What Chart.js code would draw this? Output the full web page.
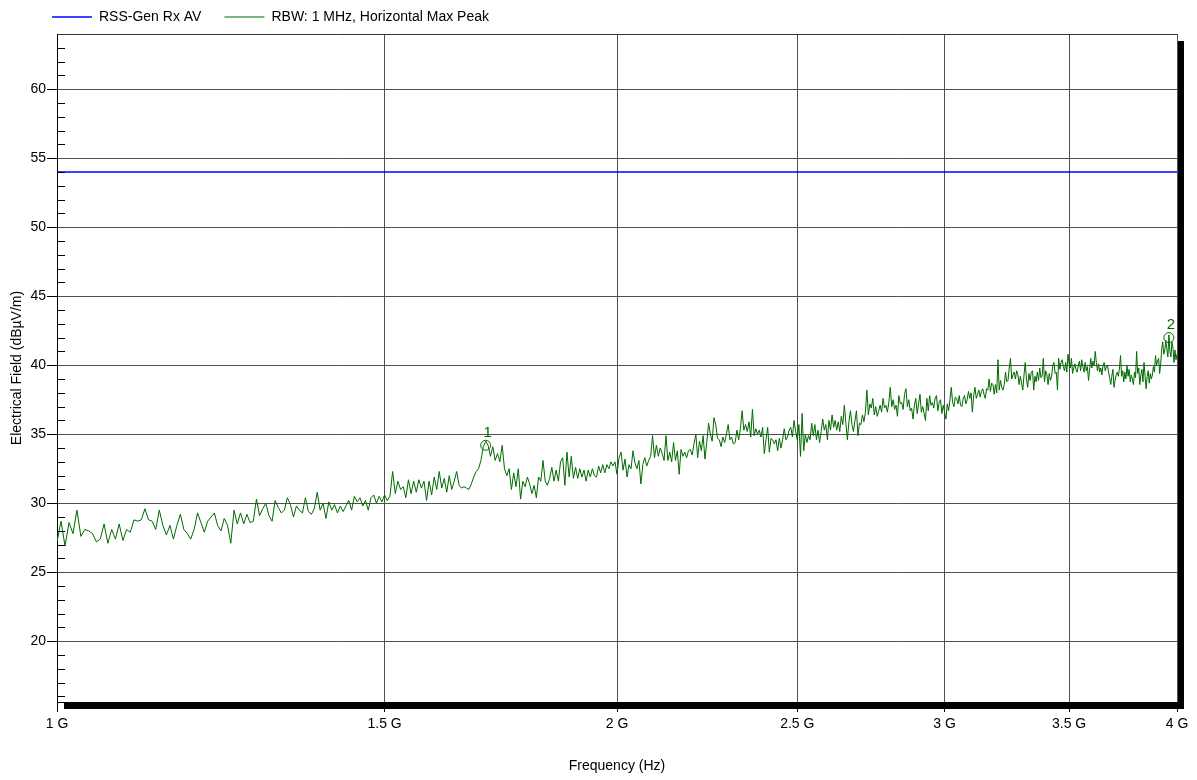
<!DOCTYPE html>
<html>
<head>
<meta charset="utf-8">
<title>Radiated emissions 1 - 4 GHz</title>
<script src="https://cdn.jsdelivr.net/npm/chart.js"></script>
<style>
  html, body { margin: 0; padding: 0; background: #fff; }
</style>
</head>
<body>
<canvas id="emissions" width="1197" height="780"></canvas>
<script>
// sweep settings of the analyser trace (MHz)
const sweepStartMHz = 1000;
const sweepStepMHz = 5;

// max peak trace, dBuV/m, one value per 5 MHz from 1000 to 4000 MHz
const peakLevels = [
	// 1000 - 1315
	27.2, 28.7, 26.9, 28.6, 27.8, 29.5, 27.6, 28.1, 28.0, 27.8,
	27.2, 27.4, 28.5, 27.1, 28.1, 27.4, 28.5, 27.3, 28.1, 27.9,
	28.8, 28.7, 28.8, 29.6, 28.8, 28.7, 28.1, 29.5, 28.4, 27.7,
	28.4, 27.4, 28.4, 29.2, 28.1, 27.8, 27.4, 28.1, 29.3, 28.6,
	27.9, 28.7, 29.0, 29.3, 28.4, 28.0, 28.9, 28.4, 27.1, 29.5,
	28.5, 29.3, 28.5, 29.2, 28.6, 28.7, 30.3, 29.1, 29.6, 30.0,
	29.1, 28.7, 30.2, 29.7,
	// 1320 - 1510
	29.3, 29.5, 30.4, 29.9, 29.0, 29.8, 29.5, 29.3, 30.4, 29.4,
	29.2, 29.6, 30.8, 29.5, 30.0, 28.9, 30.1, 29.5, 29.9, 29.3,
	29.8, 29.4, 29.8, 30.2, 29.5, 30.5, 30.1, 30.4, 29.8, 30.2,
	29.5, 30.4, 30.6, 30.0, 30.5, 30.1, 30.6, 30.2, 30.5,
	// 1515 - 1725
	32.3, 30.7, 31.6, 31.0, 31.2, 30.4, 31.7, 30.7, 31.6, 30.8,
	31.7, 31.1, 31.6, 30.2, 31.6, 30.6, 31.9, 31.0, 32.3, 31.1,
	31.8, 30.8, 32.0, 31.0, 31.6, 32.3, 31.3, 31.1, 31.2, 31.1,
	31.0, 31.4, 31.9, 32.3, 32.5, 33.1, 34.1, 34.5, 34.2, 33.4,
	34.1, 33.1, 33.6,
	// 1730 - 2000
	33.0, 34.2, 32.5, 32.0, 32.5, 31.0, 32.2, 31.2, 32.5, 30.3,
	31.6, 31.2, 31.9, 31.4, 30.7, 31.3, 30.4, 31.9, 31.6, 33.1,
	31.6, 31.3, 31.8, 32.6, 31.6, 32.4, 31.6, 33.0, 33.3, 31.3,
	33.7, 31.9, 33.4, 31.8, 32.6, 31.8, 32.5, 31.9, 32.4, 31.6,
	32.4, 31.9, 32.5, 32.0, 31.9, 32.7, 32.2, 32.8, 32.2, 32.8,
	32.5, 33.0, 32.7, 33.0, 32.1,
	// 2005 - 2255
	33.3, 33.7, 32.4, 33.2, 31.9, 32.8, 32.5, 33.8, 32.9, 32.5,
	33.1, 31.4, 32.8, 33.3, 32.7, 33.1, 33.4, 34.9, 33.3, 34.2,
	33.4, 34.0, 33.6, 33.1, 34.9, 33.1, 33.7, 33.0, 34.4, 33.1,
	33.8, 32.1, 33.9, 33.4, 33.7, 33.3, 33.8, 33.9, 33.5, 34.3,
	35.0, 33.3, 34.5, 33.8, 34.9, 33.2, 34.4, 35.8, 35.0, 34.5,
	36.2,
	// 2260 - 2500
	35.7, 34.7, 34.6, 34.1, 34.8, 34.4, 35.0, 35.7, 34.6, 34.8,
	34.3, 34.4, 35.3, 34.6, 35.4, 36.7, 35.3, 35.7, 35.2, 35.9,
	34.8, 36.8, 34.9, 35.4, 35.0, 35.3, 34.8, 35.5, 33.6, 34.6,
	35.5, 33.7, 34.7, 34.6, 34.3, 34.6, 33.8, 34.7, 34.0, 34.6,
	35.4, 34.6, 34.8, 35.3, 35.5, 34.8, 36.0, 35.2, 34.6,
	// 2505 - 2960
	35.7, 33.4, 36.5, 33.8, 35.0, 34.4, 34.9, 34.6, 35.8, 34.9,
	35.7, 34.6, 35.3, 34.4, 35.2, 36.1, 35.3, 35.7, 34.6, 36.0,
	35.3, 36.4, 35.5, 36.0, 35.3, 35.9, 35.2, 36.3, 35.7, 37.1,
	35.8, 34.6, 35.9, 36.7, 35.7, 35.2, 36.0, 36.7, 34.9, 35.8,
	35.7, 36.4, 35.9, 36.6, 38.2, 36.4, 37.2, 36.9, 37.6, 36.4,
	37.0, 36.3, 36.7, 37.1, 36.6, 37.6, 36.9, 37.1, 36.6, 37.3,
	38.4, 37.0, 37.5, 36.8, 37.1, 36.3, 37.8, 37.2, 37.3, 36.8,
	37.9, 38.3, 37.0, 37.5, 36.7, 36.9, 36.1, 37.1, 37.6, 36.5,
	37.2, 37.9, 36.6, 37.0, 36.5, 36.0, 37.6, 36.7, 37.8, 37.1,
	37.3, 36.9,
	// 2965 - 3500
	37.6, 37.8, 36.7, 37.3, 37.5, 36.5, 37.1, 36.6, 36.1, 37.2,
	36.7, 37.5, 38.4, 37.3, 37.0, 37.7, 37.6, 37.2, 37.8, 37.1,
	37.0, 37.6, 37.8, 37.2, 37.5, 38.1, 37.6, 38.0, 36.6, 37.8,
	38.4, 37.6, 37.9, 38.2, 37.7, 38.1, 38.3, 37.9, 37.6, 38.3,
	38.2, 39.0, 38.1, 38.7, 38.6, 37.9, 38.6, 38.0, 40.4, 38.2,
	38.9, 38.4, 38.2, 38.6, 39.5, 38.8, 38.9, 39.8, 40.5, 39.0,
	39.3, 39.5, 39.0, 39.6, 39.3, 38.6, 39.2, 38.7, 38.2, 39.3,
	40.2, 39.0, 38.4, 39.4, 38.9, 39.5, 39.6, 38.2, 39.2, 38.8,
	39.5, 38.9, 39.8, 39.1, 39.2, 40.5, 38.8, 39.6, 39.3, 38.6,
	39.4, 38.9, 39.2, 40.0, 40.2, 39.4, 39.5, 38.2, 40.5, 39.7,
	40.2, 40.4, 39.9, 39.6, 40.2, 39.5, 40.8, 40.1,
	// 3505 - 4000
	39.8, 40.5, 39.4, 39.8, 40.1, 39.7, 39.5, 40.0, 40.3, 39.6,
	40.4, 39.9, 39.5, 40.2, 39.6, 39.9, 38.9, 39.7, 40.5, 39.8,
	40.3, 40.0, 41.0, 40.2, 39.6, 40.1, 39.5, 39.8, 39.3, 40.0,
	40.2, 39.6, 39.9, 40.0, 39.5, 39.1, 38.6, 39.2, 39.7, 38.4,
	38.9, 39.3, 39.5, 39.2, 39.8, 40.7, 39.2, 39.6, 38.8, 39.5,
	39.0, 40.0, 39.2, 39.7, 38.8, 39.3, 39.0, 38.6, 39.5, 39.1,
	41.0, 39.4, 39.8, 38.6, 39.3, 39.7, 38.8, 40.2, 39.2, 38.3,
	39.2, 39.6, 38.7, 39.4, 39.0, 39.3, 39.9, 39.5, 40.7, 40.0,
	40.3, 40.5, 39.4, 40.1, 41.2, 41.7, 40.8, 41.1, 41.8, 41.2,
	40.6, 42.2, 41.0, 40.6, 41.7, 41.3, 40.2, 41.1, 40.4, 40.8
];

// RSS-Gen receiver average limit
const limitFreqsHz = [1e9, 4e9];
const limitLevels = [54, 54];

// markers
const markerFreqsHz = [1.70e9, 3.96e9];
const markerLevels = [34.2, 42.0];
const markerLabels = ['1', '2'];

// axes
const freqTicksHz = [1e9, 1.5e9, 2e9, 2.5e9, 3e9, 3.5e9, 4e9];
const yMin = 15.6;
const yMax = 64;

const traceColor = '#006a00';
const limitColor = '#0000ff';
const gridColor = '#505050';

Chart.defaults.font.family = '"Liberation Sans", Arial, sans-serif';
Chart.defaults.font.size = 14;
Chart.defaults.color = '#000';

const tracePoints = peakLevels.map((level, i) => ({
	x: (sweepStartMHz + i * sweepStepMHz) * 1e6,
	y: level
}));

// frame shadow, minor ticks, marker numbers
const plotDecor = {
	id: 'plotDecor',
	afterLayout(chart) {
		// legend starts just left of the plot, not at the canvas edge
		chart.legend.left = 29;
	},
	beforeDraw(chart) {
		const {ctx, chartArea: a} = chart;
		ctx.save();
		ctx.fillStyle = '#000';
		ctx.fillRect(a.left + 7, a.top + 7, a.right - a.left, a.bottom - a.top);
		ctx.fillStyle = '#fff';
		ctx.fillRect(a.left, a.top, a.right - a.left, a.bottom - a.top);
		ctx.restore();
	},
	afterDatasetsDraw(chart) {
		const {ctx, chartArea: a, scales: {x, y}} = chart;
		ctx.save();
		ctx.strokeStyle = '#000';
		ctx.lineWidth = 1;
		ctx.beginPath();
		y.ticks.forEach(t => {
			if (t.value % 5 === 0 || t.value >= yMax) return;
			const py = Math.round(y.getPixelForValue(t.value)) + 0.5;
			ctx.moveTo(a.left, py);
			ctx.lineTo(a.left + 8, py);
		});
		ctx.stroke();

		ctx.fillStyle = traceColor;
		ctx.font = '15px "Liberation Sans", Arial, sans-serif';
		ctx.textAlign = 'center';
		ctx.textBaseline = 'bottom';
		markerLabels.forEach((label, i) => {
			ctx.fillText(label,
				x.getPixelForValue(markerFreqsHz[i]) + 2,
				y.getPixelForValue(markerLevels[i]) - 5);
		});
		ctx.restore();
	}
};

const config = {
	type: 'line',
	data: {
		datasets: [
			{
				label: 'RSS-Gen Rx AV',
				data: limitFreqsHz.map((f, i) => ({x: f, y: limitLevels[i]})),
				borderColor: limitColor,
				backgroundColor: limitColor,
				borderWidth: 1.5
			},
			{
				label: 'RBW: 1 MHz, Horizontal Max Peak',
				data: tracePoints,
				borderColor: traceColor,
				backgroundColor: traceColor,
				borderWidth: 1
			},
			{
				label: 'markers',
				data: markerFreqsHz.map((f, i) => ({x: f, y: markerLevels[i]})),
				showLine: false,
				pointRadius: 5,
				pointStyle: 'circle',
				borderColor: traceColor,
				pointBorderColor: traceColor,
				pointBorderWidth: 1,
				pointBackgroundColor: 'rgba(0,0,0,0)'
			}
		]
	},
	plugins: [plotDecor],
	options: {
		responsive: false,
		animation: false,
		devicePixelRatio: 1,
		layout: {
			padding: {top: -13, right: 20, bottom: 0, left: 0}
		},
		elements: {
			point: {radius: 0},
			line: {tension: 0}
		},
		plugins: {
			legend: {
				align: 'start',
				labels: {
					usePointStyle: true,
					pointStyle: 'line',
					pointStyleWidth: 40,
					padding: 23,
					color: '#000',
					font: {size: 14},
					filter: item => item.datasetIndex < 2
				}
			},
			tooltip: {enabled: false}
		},
		scales: {
			x: {
				type: 'logarithmic',
				min: 1e9,
				max: 4e9,
				afterBuildTicks: scale => {
					scale.ticks = freqTicksHz.map(value => ({value}));
				},
				afterFit: scale => {
					scale.height = 78;
				},
				ticks: {
					autoSkip: false,
					maxRotation: 0,
					padding: 4,
					color: '#000',
					callback: value => (value / 1e9) + ' G'
				},
				grid: {
					color: gridColor,
					tickColor: '#000',
					tickLength: 10
				},
				border: {color: '#000'},
				title: {
					display: true,
					text: 'Frequency (Hz)',
					color: '#000',
					padding: {top: 0, bottom: 5}
				}
			},
			y: {
				type: 'linear',
				min: yMin,
				max: yMax,
				afterFit: scale => {
					scale.width = 57;
				},
				ticks: {
					stepSize: 1,
					autoSkip: false,
					includeBounds: false,
					padding: 1,
					color: '#000',
					callback: value => value % 5 === 0 ? value : ''
				},
				grid: {
					color: c => {
						if (!c.tick) return 'rgba(0,0,0,0)';
						if (c.tick.value === yMax) return '#333';
						return c.tick.value % 5 === 0 ? gridColor : 'rgba(0,0,0,0)';
					},
					tickColor: c => c.tick && c.tick.value % 5 === 0 ? '#000' : 'rgba(0,0,0,0)',
					tickLength: 10
				},
				border: {color: '#000'},
				title: {
					display: true,
					text: 'Electrical Field (dBµV/m)',
					color: '#000',
					padding: {top: 9, bottom: 0}
				}
			}
		}
	}
};

const emissions = new Chart(
	document.getElementById('emissions'),
	config
);
</script>
</body>
</html>
